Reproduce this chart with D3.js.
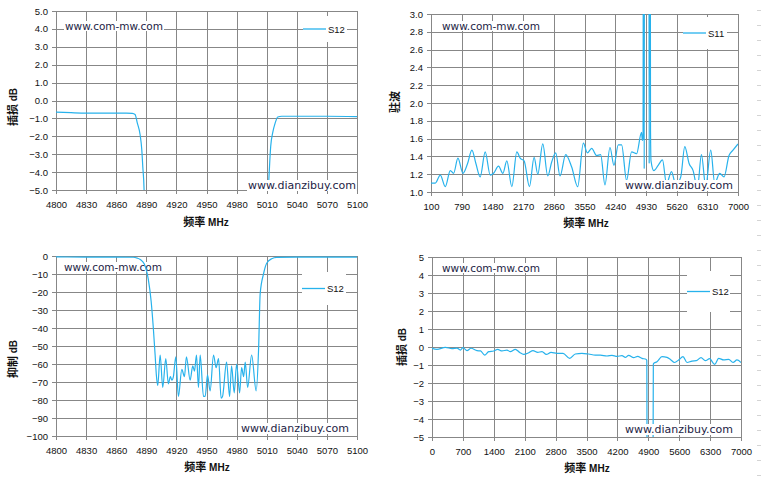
<!DOCTYPE html>
<html>
<head>
<meta charset="utf-8">
<script src="https://cdn.jsdelivr.net/npm/d3@7"></script>
<style>
  body { margin: 0; background: #fff; }
</style>
</head>
<body>
<div id="chart"></div>
<script>
// ---- data ----

// top left: S12 insertion loss, pass band close-up
var p1Freq = [4800,4815,4830,4850,4870,4876,4878.8,4881,4883.8,4885.5,4886.5,4887.8,4890,
              5010,5011.8,5012.8,5014,5016,5018.5,5021,5025,5040,5070,5100];
var p1Loss = [-0.65,-0.68,-0.7,-0.7,-0.7,-0.72,-0.78,-1.25,-1.9,-2.75,-3.7,-5,-13,
              -13,-5,-3.7,-2.56,-1.8,-1.25,-0.92,-0.88,-0.88,-0.88,-0.9];

// top right: S11 VSWR, wide band
var p2Freq = [100,197,309,421,534,608,705,818,922,1019,1109,1206,1318,1431,1505,1618,1715,1804,1917,2029,
              2104,2193,2313,2417,2500,2612,2724,2814,2903,3000,3127,3262,3397,3524,3614,3711,3823,3913,4010,4122,
              4212,4309,4384,4496,4608,4720,4832,4850,4866,4874,4886,4892,4898,4998,5004,5010,5026,5034,5045,5109,
              5206,5303,5393,5505,5602,5714,5804,5901,5991,6088,6178,6275,6387,6477,6589,6686,6798,6888,7000];
var p2Vswr = [1.10,1.10,1.19,1.06,1.24,1.21,1.38,1.21,1.32,1.47,1.32,1.17,1.45,1.19,1.21,1.29,1.21,1.35,1.06,1.45,
              1.38,1.35,1.06,1.39,1.20,1.54,1.18,1.34,1.44,1.18,1.42,1.28,1.06,1.55,1.44,1.49,1.41,1.42,1.08,1.50,
              1.30,1.53,1.53,1.13,1.45,1.43,1.67,1.58,1.60,5,5,1.26,5,5,1.32,5,5,1.68,1.35,1.24,
              1.30,1.36,1.09,1.23,1.08,1.17,1.51,1.32,1.24,1.04,1.42,1.06,1.47,1.10,1.21,1.17,1.41,1.47,1.54];

// bottom left: S12 rejection
var p3Freq = [4800,4830,4860,4877,4881,4884,4888,4892,4894.8,4897,4898.8,4900,4901.4,4903.8,4906.4,4909.4,4912,4914,4915.5,4917,
              4919.4,4922,4925.4,4928,4930,4933.7,4936.3,4938,4940,4942,4943.7,4947,4948.7,4951,4953.6,4957,4959.6,4962,4964.6,4966,
              4970,4973,4975,4977.6,4980,4983,4985,4987,4988.6,4991,4995,4999.5,5001.9,5003.5,5006.8,5010,5015,5020,5040,5070,5100];
var p3Rej = [-0.5,-0.6,-0.6,-0.7,-1.2,-2,-4.5,-13,-25,-40,-55,-66,-72,-55,-73,-57,-71,-67,-69,-67,
             -56,-78,-63,-67,-56,-69,-61,-64,-55,-73,-55,-78,-78,-66,-75,-55,-62,-57,-79,-78,
             -59,-78,-61,-76,-60,-76,-62,-67,-59,-73,-55,-75,-52,-21,-10,-4,-1.5,-0.8,-0.6,-0.6,-0.6];

// bottom right: S12 insertion loss, wide band
var p4Freq = [0,113,302,453,566,642,702,793,883,1019,1100,1193,1284,1397,1488,1586,1699,1775,1888,1986,
              2077,2190,2288,2394,2492,2590,2696,2832,2968,3119,3247,3398,3549,3700,3813,3964,4078,4191,4304,4380,
              4455,4568,4659,4757,4855,4866,4874,5005,5014,5021,5097,5210,5324,5399,5497,5588,5686,5777,5890,5988,
              6094,6192,6290,6403,6494,6607,6721,6819,6909,7000];
var p4Loss = [-0.07,-0.13,-0.02,-0.09,-0.06,-0.17,-0.04,-0.2,-0.07,-0.2,-0.22,-0.45,-0.26,-0.22,-0.13,-0.22,-0.17,-0.26,-0.13,-0.3,
              -0.41,-0.32,-0.2,-0.3,-0.26,-0.41,-0.3,-0.35,-0.35,-0.63,-0.39,-0.35,-0.39,-0.45,-0.45,-0.5,-0.46,-0.52,-0.48,-0.58,
              -0.46,-0.59,-0.52,-0.63,-0.69,-0.75,-8,-8,-0.95,-0.91,-0.82,-0.54,-0.58,-0.69,-0.86,-0.72,-0.54,-0.86,-0.78,-0.76,
              -0.59,-0.76,-0.65,-0.97,-0.63,-0.72,-0.69,-0.86,-0.72,-0.86];

// tick values
var narrowTicks = [4800,4830,4860,4890,4920,4950,4980,5010,5040,5070,5100];
var vswrTicksX  = [100,790,1480,2170,2860,3550,4240,4930,5620,6310,7000];
var wideTicksX  = [0,700,1400,2100,2800,3500,4200,4900,5600,6300,7000];
var lossTicks   = [-5,-4,-3,-2,-1,0,1,2,3,4,5];
var vswrTicks   = [1.0,1.2,1.4,1.6,1.8,2.0,2.2,2.4,2.6,2.8,3.0];
var rejTicks    = [-100,-90,-80,-70,-60,-50,-40,-30,-20,-10,0];

var xTitle = "频率";
var siteA = "www.com-mw.com", siteB = "www.dianzibuy.com";

var blue = "#27b2ec", gridColor = "#878787";
var latin = "'Liberation Sans', Arial, sans-serif";
var cjk = "'Noto Sans CJK SC', sans-serif";

var svg = d3.select("#chart")
  .append("svg")
    .attr("width", 761)
    .attr("height", 484);

// faint page-edge marks on the right
svg.append("g")
  .selectAll("line")
  .data(d3.range(10, 484, 15))
  .enter()
  .append("line")
    .attr("x1", 757).attr("x2", 761)
    .attr("y1", function(d) { return d + 0.5; })
    .attr("y2", function(d) { return d + 0.5; })
    .attr("stroke", "#d4d4d4");

var panels = [
  { id: 1, left: 56, right: 357, top: 11, bottom: 190, xs: p1Freq, ys: p1Loss,
    xDomain: [4800, 5100], yDomain: [-5, 5], xTicks: narrowTicks, yTicks: lossTicks, yFmt: d3.format(".1f"),
    yName: "插损", yUnit: " dB", yTitleX: 13, yTitleY: 107, xTitleX: 206, xTitleY: 226,
    legend: "S12", lg: [303, 16, 44, 26], siteA: [65, 30], siteB: [248, 189] },
  { id: 2, left: 431, right: 738, top: 14, bottom: 192, xs: p2Freq, ys: p2Vswr,
    xDomain: [100, 7000], yDomain: [1, 3], xTicks: vswrTicksX, yTicks: vswrTicks, yFmt: d3.format(".1f"),
    yName: "驻波", yUnit: "", yTitleX: 395, yTitleY: 102, xTitleX: 586, xTitleY: 227,
    legend: "S11", lg: [683, 17, 44, 32], siteA: [442, 30], siteB: [625, 189] },
  { id: 3, left: 56, right: 357, top: 256, bottom: 436, xs: p3Freq, ys: p3Rej,
    xDomain: [4800, 5100], yDomain: [-100, 0], xTicks: narrowTicks, yTicks: rejTicks, yFmt: d3.format("d"),
    yName: "抑制", yUnit: " dB", yTitleX: 13, yTitleY: 359, xTitleX: 207, xTitleY: 471,
    legend: "S12", lg: [302, 272, 44, 33], siteA: [64, 271], siteB: [241, 432] },
  { id: 4, left: 432, right: 741, top: 257, bottom: 437, xs: p4Freq, ys: p4Loss,
    xDomain: [0, 7000], yDomain: [-5, 5], xTicks: wideTicksX, yTicks: lossTicks, yFmt: d3.format("d"),
    yName: "插损", yUnit: " dB", yTitleX: 402, yTitleY: 347, xTitleX: 587, xTitleY: 472,
    legend: "S12", lg: [687, 271, 43, 41], siteA: [442, 272], siteB: [625, 433] }
];

panels.forEach(drawPanel);

function drawPanel(p) {
  var w = p.right - p.left, h = p.bottom - p.top;
  var x = d3.scaleLinear().domain(p.xDomain).range([p.left, p.right]);
  var y = d3.scaleLinear().domain(p.yDomain).range([p.bottom, p.top]);
  var g = svg.append("g");

  svg.append("clipPath").attr("id", "clip" + p.id)
    .append("rect").attr("x", p.left).attr("y", p.top).attr("width", w).attr("height", h);

  // grid lines
  g.append("g")
    .attr("transform", "translate(" + p.left + ",0)")
    .call(d3.axisLeft(y).tickValues(p.yTicks).tickSize(-w).tickFormat(""))
    .call(function(a) { a.select(".domain").remove(); });
  g.append("g")
    .attr("transform", "translate(0," + p.top + ")")
    .call(d3.axisBottom(x).tickValues(p.xTicks).tickSize(h).tickFormat(""))
    .call(function(a) { a.select(".domain").remove(); });

  // axes with outside ticks and labels
  var ya = g.append("g")
    .attr("transform", "translate(" + p.left + ",0)")
    .call(d3.axisLeft(y).tickValues(p.yTicks).tickSize(4).tickPadding(4).tickFormat(p.yFmt));
  var xa = g.append("g")
    .attr("transform", "translate(0," + p.bottom + ")")
    .call(d3.axisBottom(x).tickValues(p.xTicks).tickSize(4).tickPadding(7).tickFormat(d3.format("d")));
  [ya, xa].forEach(function(a) {
    a.select(".domain").remove();
    a.attr("font-family", latin).attr("font-size", 9.5);
    a.selectAll("text").attr("fill", "#111");
  });
  g.selectAll(".tick line").attr("stroke", gridColor).attr("shape-rendering", "crispEdges");

  // first watermark sits behind the trace
  watermark(g, siteA, p.siteA, 10.5);

  // trace
  var line = d3.line()
    .x(function(d, i) { return x(p.xs[i]); })
    .y(function(d) { return y(d); })
    .curve(d3.curveMonotoneX);
  g.append("path")
    .datum(p.ys)
    .attr("clip-path", "url(#clip" + p.id + ")")
    .attr("fill", "none")
    .attr("stroke", blue)
    .attr("stroke-width", 1.2)
    .attr("d", line);

  // legend
  var lg = p.lg;
  g.append("rect").attr("x", lg[0]).attr("y", lg[1]).attr("width", lg[2]).attr("height", lg[3]).attr("fill", "#fff");
  var ly = lg[1] + lg[3] / 2;
  g.append("line")
    .attr("x1", lg[0]).attr("x2", lg[0] + 23)
    .attr("y1", ly).attr("y2", ly)
    .attr("stroke", blue).attr("stroke-width", 1.3);
  g.append("text")
    .attr("x", lg[0] + 25).attr("y", ly + 3.5)
    .attr("font-family", latin).attr("font-size", 9.5).attr("fill", "#111")
    .text(p.legend);

  // second watermark is pasted on top
  watermark(g, siteB, p.siteB, 11);

  // axis titles
  var xt = g.append("text")
    .attr("x", p.xTitleX).attr("y", p.xTitleY)
    .attr("text-anchor", "middle").attr("font-size", 11).attr("fill", "#111");
  xt.append("tspan").attr("font-family", cjk).attr("font-weight", "bold").text(xTitle);
  xt.append("tspan").attr("font-family", latin).attr("font-weight", "bold").attr("font-size", 10).text(" MHz");

  var yt = g.append("text")
    .attr("transform", "translate(" + (p.yTitleX + 4) + "," + p.yTitleY + ") rotate(-90)")
    .attr("text-anchor", "middle").attr("font-size", 11).attr("fill", "#111");
  yt.append("tspan").attr("font-family", cjk).attr("font-weight", "bold").text(p.yName);
  if (p.yUnit) yt.append("tspan").attr("font-family", latin).attr("font-weight", "bold").attr("font-size", 10).text(p.yUnit);
}

function watermark(g, txt, pos, size) {
  var t = g.append("text")
    .attr("x", pos[0]).attr("y", pos[1])
    .attr("font-family", "'DejaVu Sans', Verdana, sans-serif")
    .attr("font-size", size)
    .attr("fill", "#1d1d45")
    .text(txt);
  var bb = t.node().getBBox();
  g.insert("rect", function() { return t.node(); })
    .attr("x", bb.x - 1).attr("y", bb.y + 1)
    .attr("width", bb.width + 2).attr("height", bb.height - 2)
    .attr("fill", "#fff");
}
</script>
</body>
</html>
